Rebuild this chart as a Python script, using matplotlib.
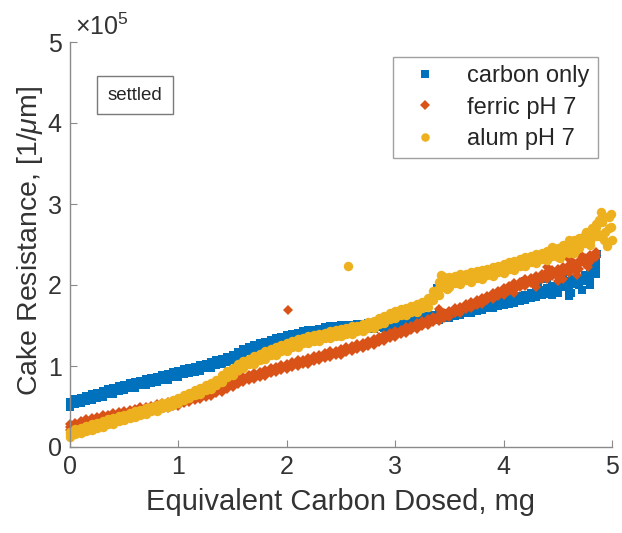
import matplotlib
matplotlib.use("Agg")
import matplotlib.pyplot as plt
import numpy as np

plt.rcParams['font.family'] = ['Liberation Sans', 'DejaVu Sans']
plt.rcParams['mathtext.fontset'] = 'custom'
plt.rcParams['mathtext.it'] = 'Liberation Sans:italic'
plt.rcParams['mathtext.rm'] = 'Liberation Sans'

# ---------------- data (y in units of 1e3 1/um) ----------------
# shared dose grid (mg)
dose_x = [0.00,0.05,0.10,0.15,0.20,0.25,0.30,0.35,0.40,0.45,
          0.50,0.55,0.60,0.65,0.70,0.75,0.80,0.85,0.90,0.95,
          1.00,1.05,1.10,1.15,1.20,1.25,1.30,1.35,1.40,1.45,
          1.50,1.55,1.60,1.65,1.70,1.75,1.80,1.85,1.90,1.95,
          2.00,2.05,2.10,2.15,2.20,2.25,2.30,2.35,2.40,2.45,
          2.50,2.55,2.60,2.65,2.70,2.75,2.80,2.85,2.90,2.95,
          3.00,3.05,3.10,3.15,3.20,3.25,3.30,3.35,3.40,3.45,
          3.50,3.55,3.60,3.65,3.70,3.75,3.80,3.85,3.90,3.95,
          4.00,4.05,4.10,4.15,4.20,4.25,4.30,4.35,4.40,4.45,
          4.50,4.55,4.60,4.65,4.70,4.75,4.80,4.85]

# carbon only
carbon_mid = [53,56,58,60,62,64,66,68,70,72,
              74,76,77,79,81,82,84,86,87,89,
              91,93,95,96,98,100,102,104,106,108,
              111,114,118,121,123,125,127,129,131,133,
              135,137,138,140,141,142,143,145,146,147,
              148,148,148,149,149,150,150,151,151,152,
              153,154,155,156,157,158,159,160,161,162,
              163,165,167,168,170,171,173,174,176,177,
              179,180,182,183,185,187,189,191,193,196,
              198,200,202,204,206,209,212,218]
carbon_lo = [49,53,54,57,58,61,62,65,66,69,
             70,73,73,76,77,79,80,83,83,86,
             87,90,91,93,94,97,98,101,102,105,
             107,111,114,118,119,122,123,126,127,130,
             131,134,134,137,137,139,139,142,142,144,
             144,145,144,146,145,147,146,148,147,149,
             149,151,151,153,153,155,155,157,157,159,
             159,162,163,165,166,168,169,171,172,174,
             175,177,178,180,181,184,185,188,189,193,
             194,197,196,201,200,205,204,214]
carbon_hi = [56,59,61,63,65,67,69,71,73,75,
             77,79,80,82,84,85,87,89,90,92,
             94,96,98,99,101,103,105,107,109,111,
             114,117,121,124,126,128,130,132,134,136,
             138,140,141,143,144,145,146,148,149,150,
             151,151,151,152,152,153,153,154,154,155,
             156,157,158,159,160,161,162,163,164,165,
             166,168,170,171,173,174,176,177,179,180,
             182,183,185,186,188,190,192,194,196,199,
             201,203,205,207,209,212,216,222]
carbon_extra_x = [4.20,4.32,4.45,4.55,4.65,4.72,4.78,4.82,3.39,4.86,4.60,4.70,4.40,4.75,4.83,4.50,4.85,4.62,4.80]
carbon_extra_y = [205,200,188,212,222,194,205,225,196,238,186,202,207,230,215,190,228,190,200]

# ferric pH 7
ferric_mid = [25,27,29,31,33,34,36,37,39,40,
              42,43,44,46,47,48,50,51,52,54,
              55,57,59,61,63,65,67,70,72,75,
              78,81,84,86,88,90,92,94,96,98,
              100,102,104,105,107,109,111,113,115,116,
              118,120,122,124,126,128,130,133,135,138,
              140,142,145,147,150,152,155,157,160,162,
              165,168,170,173,176,178,181,184,187,190,
              193,196,199,201,204,206,208,210,212,214,
              216,218,221,223,226,229,233,238]
ferric_lo = [21,24,25,28,29,31,32,34,35,37,
             38,40,40,43,43,45,46,48,48,51,
             51,54,55,58,59,62,63,67,68,72,
             74,78,80,83,84,87,88,91,92,95,
             96,99,100,102,103,106,107,110,111,113,
             114,117,118,121,122,125,126,130,131,135,
             136,139,141,144,146,149,151,154,156,159,
             161,165,166,170,172,175,177,181,183,187,
             188,193,194,198,199,203,203,207,207,211,
             210,215,215,220,220,226,228,235]
ferric_hi = [28,30,32,34,36,37,39,40,42,43,
             45,46,47,49,50,51,53,54,55,57,
             58,60,62,64,66,68,70,73,75,78,
             81,84,87,89,91,93,95,97,99,101,
             103,105,107,108,110,112,114,116,118,119,
             121,123,125,127,129,131,133,136,138,141,
             143,145,148,150,153,155,158,160,163,165,
             168,171,173,176,179,181,184,187,190,193,
             196,199,202,204,207,209,211,213,216,218,
             220,222,225,227,230,233,237,241]
ferric_extra_x = [2.01,3.40,4.10,4.50,4.60,4.78,4.30,4.68,4.82,4.40,4.55,4.72]
ferric_extra_y = [169,170,190,205,232,222,198,212,232,222,208,236]

# alum pH 7
alum_mid = [16,19,21,23,25,27,29,31,33,35,
            37,39,41,43,45,47,49,51,53,55,
            58,61,64,67,70,73,76,80,85,90,
            94,98,102,105,108,111,114,117,119,122,
            124,127,129,131,133,134,136,137,139,140,
            142,143,145,146,148,150,152,155,158,161,
            164,166,168,170,172,175,179,186,196,202,
            203,205,207,209,210,212,214,215,217,219,
            221,223,225,227,229,231,233,235,237,239,
            241,243,246,249,252,256,260,265]
alum_lo = [12,16,17,20,21,24,25,28,29,32,
           33,36,37,40,41,44,45,48,49,52,
           54,58,60,64,66,70,72,77,80,86,
           89,95,97,102,103,108,109,114,114,119,
           119,124,124,128,128,131,131,134,134,137,
           137,140,140,143,143,147,147,152,153,158,
           159,163,163,167,167,172,173,181,188,197,
           197,202,201,206,204,209,208,212,211,216,
           215,220,219,224,223,228,227,232,231,236,
           235,240,240,246,246,252,254,261]
alum_hi = [19,22,24,26,28,30,32,34,36,38,
           40,42,44,46,48,50,52,54,56,58,
           61,64,67,70,73,76,79,83,89,94,
           98,102,106,109,112,115,118,121,123,126,
           128,131,133,135,137,138,140,141,143,144,
           146,147,149,150,152,154,156,159,162,165,
           168,170,172,174,176,179,184,192,204,210,
           210,211,213,214,216,217,219,220,222,224,
           226,228,230,232,234,236,238,240,242,244,
           246,249,252,255,258,262,266,271]
alum_extra_x = [2.56,4.92,4.85,4.95,4.60,3.42,3.48,4.70,4.76,4.88,4.97,4.80,4.65,4.90,4.45,4.52,
                4.91,4.94,4.97,4.99,5.00,4.99,4.88,4.82,4.93,4.86]
alum_extra_y = [223,285,275,248,255,212,195,248,266,260,270,250,240,290,247,233,
                278,265,284,288,256,272,280,270,255,262]

series_labels = ['carbon only', 'ferric pH 7', 'alum pH 7']
x_ticks = [0, 1, 2, 3, 4, 5]
y_ticks = [0, 1, 2, 3, 4, 5]
y_scale = 1e5

# ---------------- figure ----------------
fig = plt.figure(figsize=(6.22, 5.33), dpi=100)
ax = fig.add_axes([70/622, 86/533, 542/622, 405/533])

blue, orange, yellow = '#0072BD', '#D95319', '#EDB120'
styles = [
    (blue, 's', 5.8, dose_x, [carbon_lo, carbon_hi, carbon_mid], carbon_extra_x, carbon_extra_y),
    (orange, 'D', 5.6, dose_x, [ferric_lo, ferric_hi, ferric_mid], ferric_extra_x, ferric_extra_y),
    (yellow, 'o', 6.8, dose_x, [alum_lo, alum_hi, alum_mid], alum_extra_x, alum_extra_y),
]
handles = []
for color, marker, ms, xs, ys_list, ex, ey in styles:
    for ys in ys_list:
        ax.plot(xs, np.array(ys) * 1e3, marker, color=color, ms=ms, mew=0,
                linestyle='none', clip_on=False)
    h, = ax.plot(ex, np.array(ey) * 1e3, marker, color=color, ms=ms, mew=0,
                 linestyle='none', clip_on=False)
    handles.append(h)

ax.set_xlim(0, 5)
ax.set_ylim(0, 5e5)
ax.set_xticks(x_ticks)
ax.set_xticklabels([str(t) for t in x_ticks])
ax.set_yticks([t * y_scale for t in y_ticks])
ax.set_yticklabels([str(t) for t in y_ticks])

for s in ['top', 'right']:
    ax.spines[s].set_visible(False)
for s in ['left', 'bottom']:
    ax.spines[s].set_color('#8a8a8a')
    ax.spines[s].set_linewidth(1.0)
ax.tick_params(direction='in', length=5, width=0.8, color='#8a8a8a',
               labelsize=18, labelcolor='#333333', pad=6)

ax.set_xlabel('Equivalent Carbon Dosed, mg', fontsize=21, color='#333333', labelpad=6)
ax.set_ylabel(r'Cake Resistance, [1/$\mu$m]', fontsize=20.5, color='#333333')
ax.yaxis.set_label_coords(-0.047, 0.51)

ax.text(0.01, 1.005, r'$\times$10$^5$', transform=ax.transAxes, fontsize=18,
        color='#333333', ha='left', va='bottom')

ax.text(0.12, 0.869, 'settled', transform=ax.transAxes, fontsize=13.5,
        color='#262626', ha='center', va='center',
        bbox=dict(boxstyle='square,pad=0.55', fc='white', ec='#7a7a7a', lw=1.0))

leg = ax.legend(handles, series_labels, loc='upper right', bbox_to_anchor=(0.974, 0.963),
                borderaxespad=0, fontsize=17, frameon=True, fancybox=False,
                edgecolor='#8a8a8a', handletextpad=0.8, handlelength=2.0,
                borderpad=0.35, labelspacing=0.4, markerscale=0.9)
leg.get_frame().set_linewidth(1.0)
for t in leg.get_texts():
    t.set_color('#262626')

fig.savefig('out.png', dpi=100)
